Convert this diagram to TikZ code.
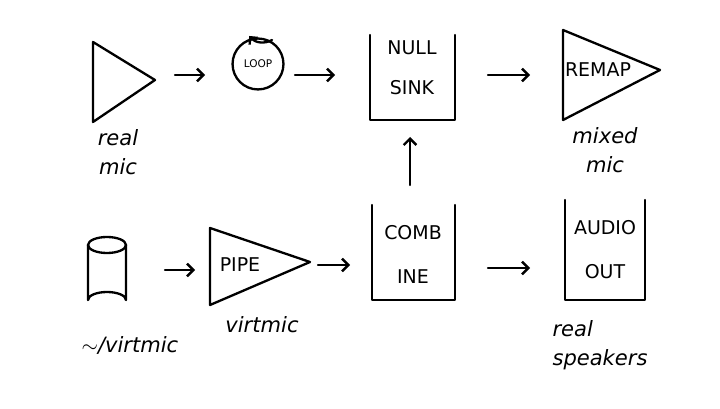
\documentclass[tikz,border=0pt]{standalone}
\usepackage{fontspec}
\setmainfont{DejaVu Sans}
\usetikzlibrary{positioning,shapes.geometric,arrows.meta}
\tikzset{
  pen/.style={line width=1.1pt,line cap=round,line join=round},
  flow/.style={pen,-{Straight Barb[length=3pt]}},
  tag/.style={font=\itshape,align=center,inner sep=0pt},
  caps/.style={font=\small,align=center,inner sep=0pt}
}
\begin{document}
\begin{tikzpicture}[x=0.0167cm,y=-0.0167cm]
  \useasboundingbox (0,0) rectangle (720,409);
  % top row
  \draw[pen] (93,42) -- (93,122) -- (155,80) -- cycle;
  \coordinate (realmic) at (175,75);
  \node[tag] (realmiclbl) at (118,152) {real\\[2pt]mic};
  \node[draw,pen,circle,minimum size=0.85cm,caps,font=\tiny] (loop) at (258,64) {LOOP};
  \draw[pen,-{Straight Barb[length=2.5pt]}] (272,40) arc (60:140:18);
  \coordinate (loopR) at (295,75);
  \draw[pen] (370,35) -- (370,120) -- (455,120) -- (455,35);
  \node[caps,anchor=north] (nullsink) at (412,40) {NULL\\[8pt]SINK};
  \coordinate (sinkL) at (335,75); \coordinate (sinkR) at (488,75);
  \coordinate (sinkB) at (410,137);
  \draw[pen] (563,30) -- (563,120) -- (660,70) -- cycle;
  \node[caps] (remap) at (598,70) {REMAP};
  \coordinate (remapL) at (530,75);
  \node[tag] (mixedmic) at (605,150) {mixed\\[2pt]mic};
  \draw[flow] (realmic) -- (205,75);
  \draw[flow] (loopR) -- (sinkL);
  \draw[flow] (sinkR) -- (remapL);
  % bottom row
  \draw[pen] (88,245) -- (88,300) arc (180:360:19 and 8) -- (126,245);
  \draw[pen] (107,245) ellipse (19 and 8);
  \coordinate (cyl) at (165,270); \coordinate (pipeL) at (195,270);
  \node[tag] (virtfile) at (130,345) {$\sim$/virtmic};
  \draw[pen] (210,228) -- (210,305) -- (310,262) -- cycle;
  \node[caps] (pipe) at (240,265) {PIPE};
  \coordinate (pipeR) at (318,265); \coordinate (combL) at (350,265);
  \node[tag] (virtmic) at (262,325) {virtmic};
  \draw[pen] (372,205) -- (372,300) -- (455,300) -- (455,205);
  \node[caps,anchor=north] (combine) at (413,225) {COMB\\[10pt]INE};
  \coordinate (combT) at (410,185); \coordinate (combR) at (488,268);
  \draw[pen] (565,200) -- (565,300) -- (645,300) -- (645,200);
  \node[caps,anchor=north] (audioout) at (605,220) {AUDIO\\[10pt]OUT};
  \coordinate (outL) at (530,268);
  \node[tag,align=left] (speakers) at (600,345) {real\\[2pt]speakers};
  \draw[flow] (cyl) -- (pipeL);
  \draw[flow] (pipeR) -- (combL);
  \draw[flow] (combR) -- (outL);
  \draw[flow] (combT) -- (sinkB);
\end{tikzpicture}
\end{document}
